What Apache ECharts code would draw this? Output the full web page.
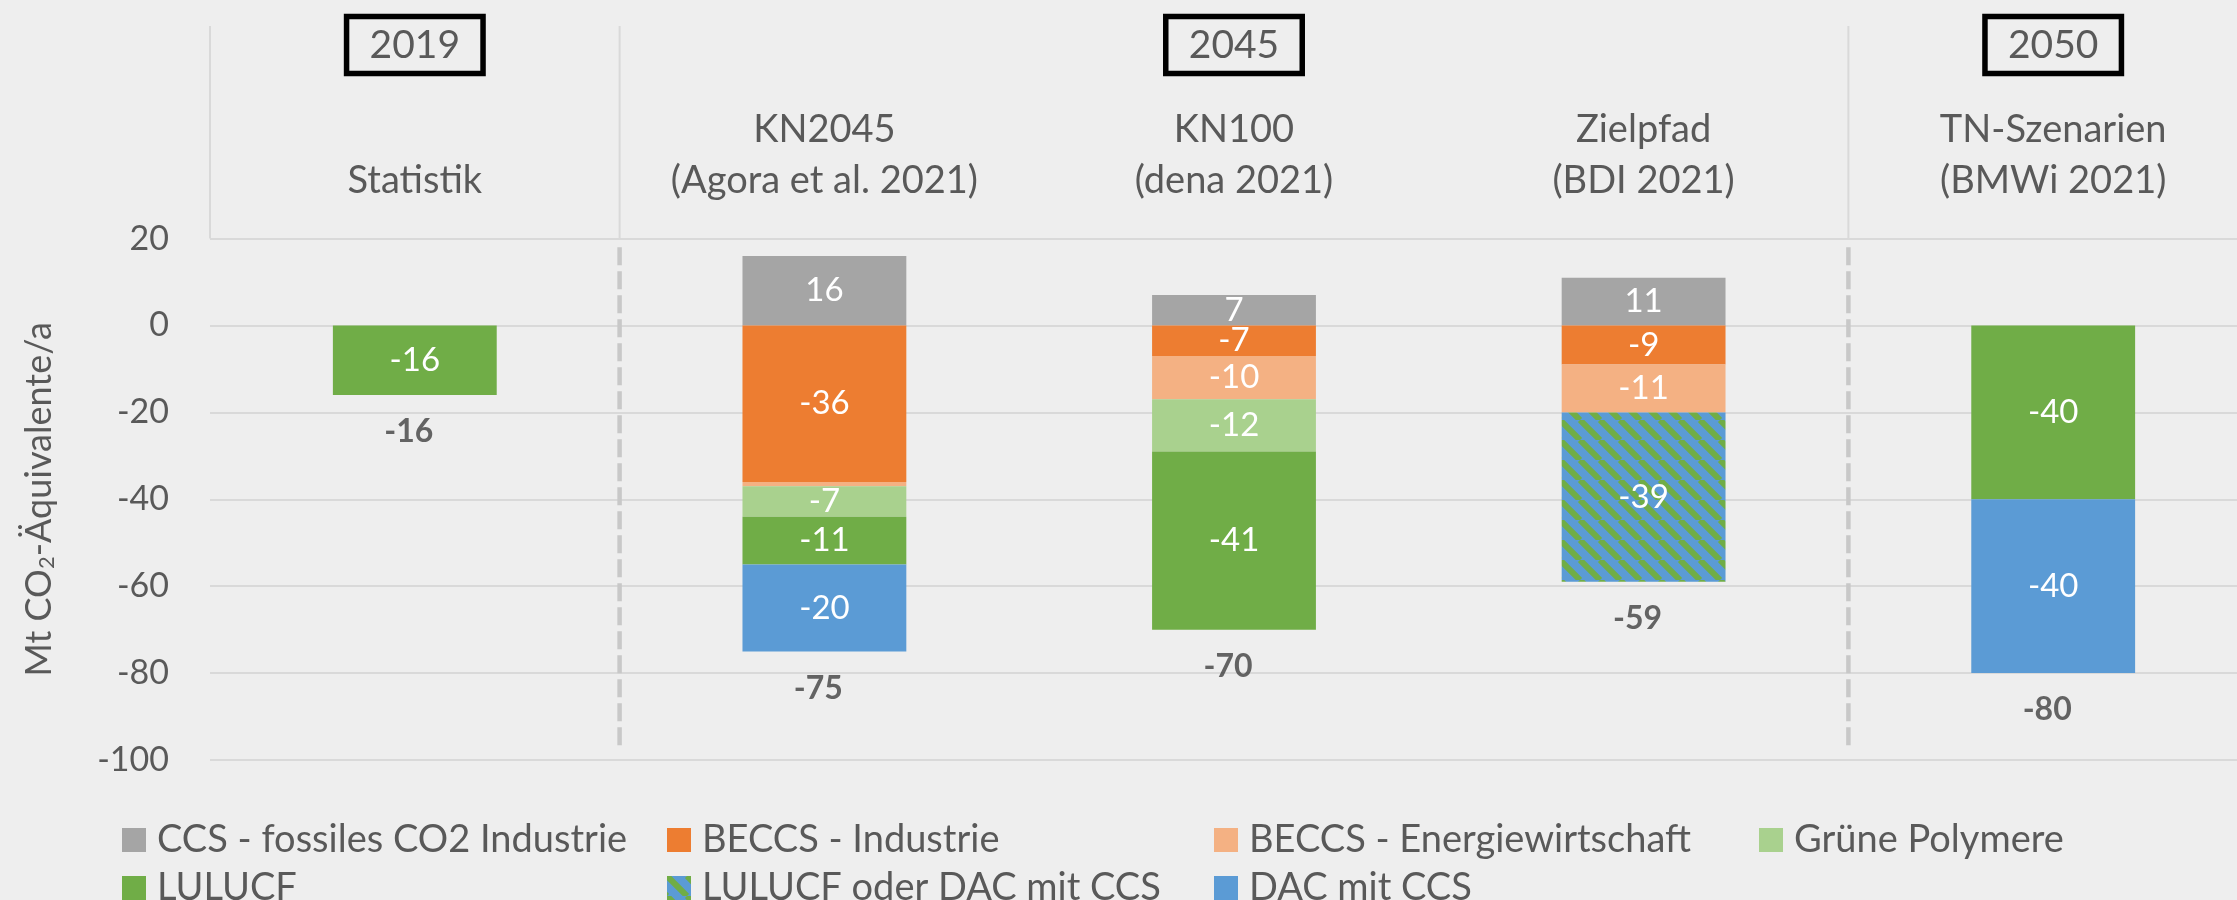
<!DOCTYPE html>
<html>
<head>
<meta charset="utf-8">
<script src="https://cdn.jsdelivr.net/npm/echarts@6/dist/echarts.min.js"></script>
<style>
html,body{margin:0;padding:0;background:#eeeeee;overflow:hidden;width:2237px;height:900px;}
#chart{width:2270px;height:900px;}
</style>
</head>
<body>
<div id="chart"></div>
<script>
// ---- Data ----
const categories = ['Statistik', 'KN2045\n(Agora et al. 2021)', 'KN100\n(dena 2021)', 'Zielpfad\n(BDI 2021)', 'TN-Szenarien\n(BMWi 2021)'];
const yearLabels = ['2019', '', '2045', '', '2050'];
const ccsFossil      = [null, 16, 7, 11, null];
const beccsIndustrie = [null, -36, -7, -9, null];
const beccsEnergie   = [null, -1, -10, -11, null];
const gruenePolymere = [null, -7, -12, null, null];
const lulucf         = [-16, -11, -41, null, -40];
const lulucfOderDac  = [null, null, null, -39, null];
const dacCcs         = [null, -20, null, null, -40];
const totals         = [-16, -75, -70, -59, -80];
const yTicks = { min: -100, max: 20, interval: 20 };

// ---- Styling ----
const FONT = 'Lato, "Open Sans", sans-serif';
const TXT = '#595959';
const GRID_COLOR = '#d9d9d9';

function hatch() {
  const c = document.createElement('canvas');
  c.width = 20; c.height = 20;
  const g = c.getContext('2d');
  g.fillStyle = '#5B9BD5';
  g.fillRect(0, 0, 20, 20);
  g.strokeStyle = '#70AD47';
  g.lineWidth = 6;
  g.beginPath();
  for (const o of [-20, 0, 20]) { g.moveTo(o, 0); g.lineTo(o + 20, 20); }
  g.stroke();
  return { image: c, repeat: 'repeat' };
}

const seriesDefs = [
  ['CCS - fossiles CO2 Industrie', ccsFossil, '#A5A5A5'],
  ['BECCS - Industrie', beccsIndustrie, '#ED7D31'],
  ['BECCS - Energiewirtschaft', beccsEnergie, '#F4B183'],
  ['Grüne Polymere', gruenePolymere, '#A9D18E'],
  ['LULUCF', lulucf, '#70AD47'],
  ['LULUCF oder DAC mit CCS', lulucfOderDac, hatch()],
  ['DAC mit CCS', dacCcs, '#5B9BD5']
];

const barSeries = seriesDefs.map(([name, data, color]) => ({
  name: name,
  type: 'bar',
  stack: 'total',
  barWidth: '40%',
  xAxisIndex: 0,
  yAxisIndex: 0,
  data: data,
  itemStyle: { color: color },
  label: {
    show: true,
    position: 'inside',
    color: '#ffffff',
    fontFamily: FONT,
    fontSize: 33,
    formatter: p => (p.value == null || Math.abs(p.value) < 3) ? '' : String(p.value)
  },
  emphasis: { disabled: true }
}));

const totalSeries = {
  name: 'Summe',
  type: 'scatter',
  xAxisIndex: 0,
  yAxisIndex: 0,
  data: totals,
  symbolSize: 0,
  silent: true,
  label: {
    show: true,
    position: 'bottom',
    distance: 21,
    offset: [-6, 0],
    color: '#404040',
    fontWeight: 'bold',
    fontFamily: FONT,
    fontSize: 32,
    formatter: p => String(p.value)
  }
};

// legend layout: [name, left, top]
const legendSlots = [
  ['CCS - fossiles CO2 Industrie', 122, 828],
  ['BECCS - Industrie', 667, 828],
  ['BECCS - Energiewirtschaft', 1214, 828],
  ['Grüne Polymere', 1759, 828],
  ['LULUCF', 122, 876],
  ['LULUCF oder DAC mit CCS', 667, 876],
  ['DAC mit CCS', 1214, 876]
];

const legends = legendSlots.map(([name, left, top]) => ({
  orient: 'horizontal',
  left: left,
  top: top - 8,
  padding: 0,
  itemWidth: 24,
  itemHeight: 24,
  icon: 'rect',
  selectedMode: false,
  data: [name],
  textStyle: { color: TXT, fontFamily: FONT, fontSize: 38, lineHeight: 40, padding: [0, 0, 0, 6] }
}));

const chart = echarts.init(document.getElementById('chart'), null, { renderer: 'canvas' });

const option = {
  backgroundColor: '#eeeeee',
  animation: false,
  grid: { left: 210, top: 238.6, width: 2048, height: 521.4, containLabel: false },
  legend: legends,
  xAxis: [
    {
      type: 'category',
      position: 'top',
      data: categories,
      axisLine: { show: false },
      axisTick: { show: false },
      splitLine: { show: false },
      axisLabel: {
        interval: 0,
        margin: 32,
        color: TXT,
        fontFamily: FONT,
        fontSize: 38,
        lineHeight: 51
      }
    },
    {
      type: 'category',
      position: 'top',
      data: yearLabels,
      axisLine: { show: false },
      axisTick: { show: false },
      splitLine: { show: false },
      axisLabel: {
        interval: (i, v) => v !== '',
        margin: 165,
        color: TXT,
        fontFamily: FONT,
        fontSize: 39,
        lineHeight: 44,
        borderColor: '#000000',
        borderWidth: 5.5,
        padding: [7, 23, 6, 23]
      }
    },
    {
      type: 'value',
      min: 0,
      max: categories.length,
      show: false
    }
  ],
  yAxis: {
    type: 'value',
    min: yTicks.min,
    max: yTicks.max,
    interval: yTicks.interval,
    name: 'Mt CO{sub|2}-Äquivalente/a',
    nameLocation: 'middle',
    nameGap: 152,
    nameTextStyle: {
      color: TXT,
      fontFamily: FONT,
      fontSize: 36,
      rich: {
        sub: { fontSize: 22, fontFamily: FONT, color: TXT, padding: [16, 0, 0, 0] }
      }
    },
    axisLine: { show: false },
    axisTick: { show: false },
    axisLabel: { margin: 41, color: TXT, fontFamily: FONT, fontSize: 34 },
    splitLine: { lineStyle: { color: GRID_COLOR, width: 2 } }
  },
  series: barSeries.concat([totalSeries])
};

chart.setOption(option);

// Separators & header lines positioned through the library's scales
function addLines() {
  const gridTop = chart.convertToPixel({ yAxisIndex: 0 }, yTicks.max);
  const xs = [0, 1, 4].map(v => chart.convertToPixel({ xAxisIndex: 2 }, v));
  const dashTop = chart.convertToPixel({ yAxisIndex: 0 }, 18);
  const dashBot = chart.convertToPixel({ yAxisIndex: 0 }, -98);
  const graphics = [];
  xs.forEach(x => {
    graphics.push({
      type: 'line', z: 0, silent: true,
      shape: { x1: x, y1: 26, x2: x, y2: gridTop },
      style: { stroke: GRID_COLOR, lineWidth: 2 }
    });
  });
  xs.slice(1).forEach(x => {
    graphics.push({
      type: 'line', z: 0, silent: true,
      shape: { x1: x, y1: dashTop, x2: x, y2: dashBot },
      style: { stroke: '#c8c8c8', lineWidth: 4.5, lineDash: [18, 6] }
    });
  });
  chart.setOption({ graphic: graphics });
}
addLines();
</script>
</body>
</html>
